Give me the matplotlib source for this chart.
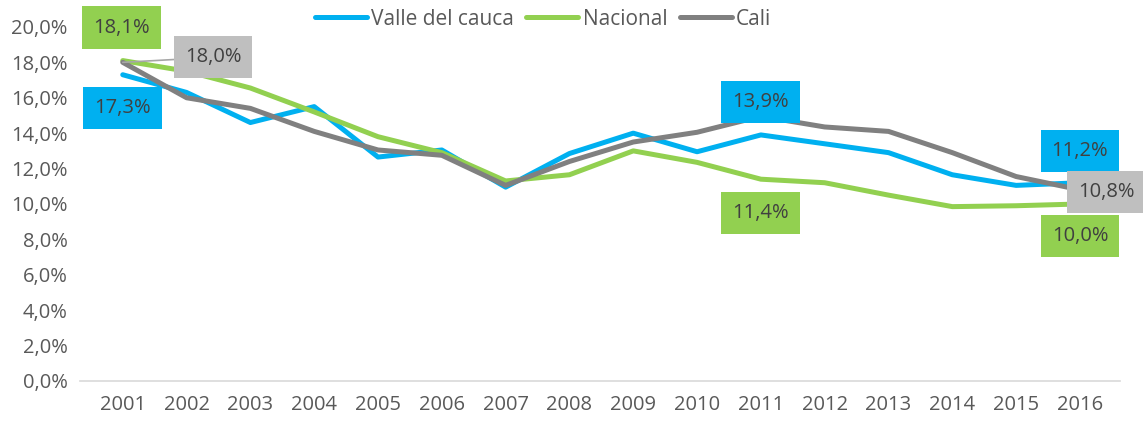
import matplotlib.pyplot as plt
from matplotlib.ticker import FuncFormatter

plt.rcParams['font.family'] = ['Open Sans', 'DejaVu Sans']

years = list(range(2001, 2017))
valle = [17.3, 16.3, 14.6, 15.5, 12.65, 13.05, 10.95, 12.85, 14.0, 12.95, 13.9, 13.4, 12.9, 11.65, 11.05, 11.2]
nacional = [18.1, 17.5, 16.55, 15.2, 13.8, 12.9, 11.3, 11.65, 13.0, 12.35, 11.4, 11.2, 10.5, 9.85, 9.9, 10.0]
cali = [18.0, 16.0, 15.4, 14.1, 13.05, 12.75, 11.05, 12.4, 13.5, 14.05, 14.95, 14.35, 14.1, 12.9, 11.55, 10.8]

c_valle = '#00B0F0'
c_nac = '#92D050'
c_cali = '#808080'
txt = '#404040'

fig = plt.figure(figsize=(11.43, 4.23), dpi=100)
ax = fig.add_axes([0.07, 0.0993, 0.91, 0.837])

ax.plot(years, valle, color=c_valle, lw=3.6, label='Valle del cauca', solid_capstyle='round')
ax.plot(years, nacional, color=c_nac, lw=3.6, label='Nacional', solid_capstyle='round')
ax.plot(years, cali, color=c_cali, lw=3.6, label='Cali', solid_capstyle='round')

ax.set_ylim(0, 20)
ax.set_xlim(2000.33, 2016.63)
ax.set_yticks(range(0, 21, 2))
ax.set_xticks(years)
ax.yaxis.set_major_formatter(FuncFormatter(lambda v, p: f'{v:.1f}%'.replace('.', ',')))
ax.tick_params(axis='both', length=0, labelsize=14.5, labelcolor='#595959')
ax.tick_params(axis='y', pad=9)
ax.tick_params(axis='x', pad=10)
for s in ['top', 'right', 'left']:
    ax.spines[s].set_visible(False)
ax.spines['bottom'].set_color('#D9D9D9')
ax.spines['bottom'].set_linewidth(1.2)


def lab(x, y, off, bg, **kw):
    ax.annotate(f'{y:.1f}%'.replace('.', ','), xy=(x, y), xytext=off,
                textcoords='offset points', ha='center', va='center',
                fontsize=14.5, color=txt, zorder=5,
                bbox=dict(boxstyle='square,pad=0.55', fc=bg, ec='none'), **kw)


i0 = 0
i11 = years.index(2011)
i16 = years.index(2016)
lab(years[i0], nacional[i0], (-0.7, 23.8), c_nac)
lab(years[i0], cali[i0], (65, 3.6), '#BFBFBF',
    arrowprops=dict(arrowstyle='-', color='#A6A6A6', lw=1.2,
                    connectionstyle='arc3', shrinkA=0, shrinkB=0))
lab(years[i0], valle[i0], (0, -23.8), c_valle)
lab(years[i11], valle[i11], (0, 23.8), c_valle)
lab(years[i11], nacional[i11], (0, -24.5), c_nac)
lab(years[i16], valle[i16], (0, 23), c_valle)
lab(years[i16], cali[i16], (19, -1.4), '#BFBFBF')
lab(years[i16], nacional[i16], (0, -23), c_nac)

fig.legend(loc='center', bbox_to_anchor=(0.475, 0.955), ncol=3, frameon=False,
           fontsize=15, handlelength=2.5, handletextpad=0.2, columnspacing=0.6,
           labelcolor='#595959')

fig.savefig('out.png', dpi=100)
